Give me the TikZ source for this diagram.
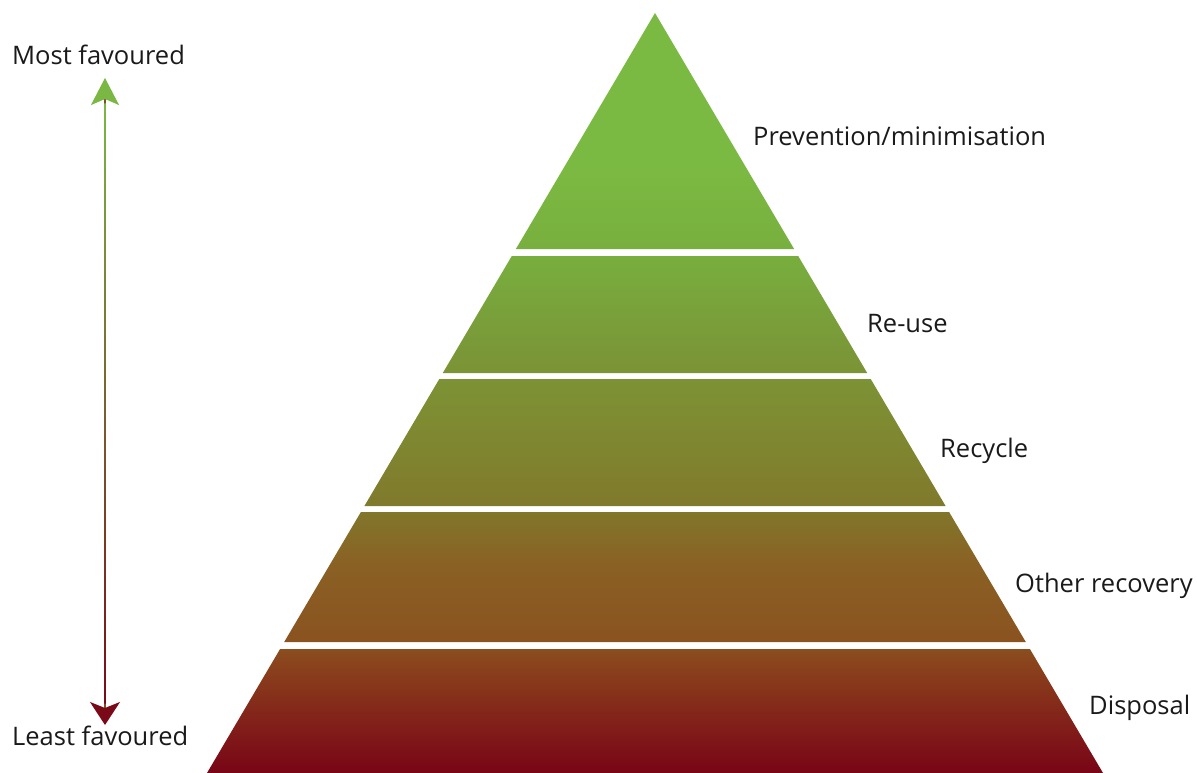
\documentclass[tikz,border=0pt]{standalone}
\usepackage{fontspec}
\setmainfont{Open Sans}
\usetikzlibrary{arrows.meta,calc}
\definecolor{cTop}{HTML}{7BBA42}
\definecolor{cA}{HTML}{78AE3E}
\definecolor{cB}{HTML}{7A9838}
\definecolor{cC}{HTML}{7F8A31}
\definecolor{cD}{HTML}{807A2C}
\definecolor{cE}{HTML}{8A6124}
\definecolor{cF}{HTML}{8A5220}
\definecolor{cG}{HTML}{8A431C}
\definecolor{cH}{HTML}{82201A}
\definecolor{cBot}{HTML}{780516}
\definecolor{arrGreen}{HTML}{7AB843}
\definecolor{arrRed}{HTML}{7A0A18}
\definecolor{lblText}{HTML}{1A1A1A}
% y in px from top: bp = 25 + 50*(773-y)/760
\pgfdeclareverticalshading{pyrshade}{100bp}{%
  color(0bp)=(cBot); color(25bp)=(cBot);
  color(28.3bp)=(cH);
  color(32.2bp)=(cG);
  color(33.5bp)=(cF);
  color(38.8bp)=(cE);
  color(42.7bp)=(cD);
  color(48.0bp)=(cC);
  color(53.0bp)=(cB);
  color(58.9bp)=(cA);
  color(65bp)=(cTop);
  color(75bp)=(cTop); color(100bp)=(cTop)}
\pgfdeclareverticalshading{arrshade}{100bp}{%
  color(0bp)=(arrRed); color(25bp)=(arrRed);
  color(75bp)=(arrGreen); color(100bp)=(arrGreen)}
\tikzset{
  lbl/.style={anchor=base west, inner sep=0pt, text=lblText, font=\fontsize{25.5}{30}\selectfont},
  tiptop/.tip={Stealth[length=27pt,width=28pt,inset=6pt,color=arrGreen]},
  tipbot/.tip={Stealth[length=23pt,width=30pt,inset=6pt,color=arrRed]},
}
\begin{document}
\begin{tikzpicture}[x=1pt,y=-1pt]
\useasboundingbox[fill=white] (0,0) rectangle (1197,773);
% pyramid tiers
\shade[shading=pyrshade]
  (655,13) -- (794.1,249) -- (515.9,249) -- cycle
  (511.8,256) -- (798.2,256) -- (867.2,373) -- (442.8,373) -- cycle
  (439.3,379) -- (870.7,379) -- (945.6,506) -- (364.4,506) -- cycle
  (360.9,512) -- (949.1,512) -- (1025.8,642) -- (284.2,642) -- cycle
  (280.1,649) -- (1029.9,649) -- (1103,773) -- (207,773) -- cycle;
% labels
\node[lbl] (prev) at (753,146) {Prevention/minimisation};
\node[lbl] (reuse) at (867,332) {Re-use};
\node[lbl] (recyc) at (940,457) {Recycle};
\node[lbl] (other) at (1015,592) {Other recovery};
\node[lbl] (disp) at (1089,714) {Disposal};
\node[lbl] (most) at (12,65) {Most favoured};
\node[lbl] (least) at (12,745) {Least favoured};
% arrow
\coordinate (atop) at (105,78);
\coordinate (abot) at (105,725);
\draw[line width=1.3pt, color=arrRed!60!arrGreen, tiptop-tipbot] (atop) -- (abot);
\shade[shading=arrshade] ($(atop)+(-0.65,26)$) rectangle ($(abot)+(0.65,-22)$);
\end{tikzpicture}
\end{document}
